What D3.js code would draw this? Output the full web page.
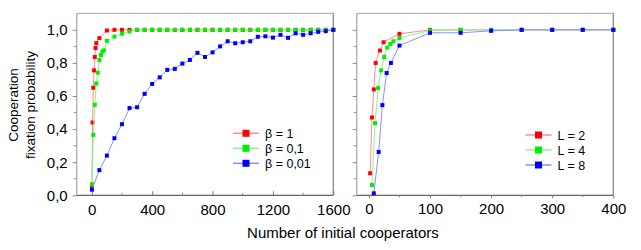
<!DOCTYPE html>
<html>
<head>
<meta charset="utf-8">
<script src="https://cdn.jsdelivr.net/npm/d3@7"></script>
<style>
  body { margin: 0; background: #fff; }
  svg text { font-family: "Liberation Sans", Arial, sans-serif; fill: #000; }
</style>
</head>
<body>
<svg id="chart" width="641" height="250"></svg>
<script>
// left panel: beta series
var b1X = [1, 5, 10, 15, 20, 25, 30, 50, 100, 150, 200, 250, 300, 350, 400, 450, 500, 550, 600, 650, 700, 750, 800, 850, 900, 950, 1000, 1050, 1100, 1150, 1200, 1250, 1300, 1350, 1400, 1450, 1500, 1550, 1600];
var b1Y = [0.055, 0.44, 0.65, 0.755, 0.836, 0.89, 0.92, 0.95, 0.996, 1, 1, 1, 1, 1, 1, 1, 1, 1, 1, 1, 1, 1, 1, 1, 1, 1, 1, 1, 1, 1, 1, 1, 1, 1, 1, 1, 1, 1, 1];
var b01X = [1, 10, 20, 30, 40, 50, 60, 70, 80, 100, 150, 200, 250, 300, 350, 400, 450, 500, 550, 600, 650, 700, 750, 800, 850, 900, 950, 1000, 1050, 1100, 1150, 1200, 1250, 1300, 1350, 1400, 1450, 1500, 1550, 1600];
var b01Y = [0.067, 0.365, 0.547, 0.676, 0.741, 0.818, 0.848, 0.869, 0.876, 0.933, 0.959, 0.977, 0.99, 1, 1, 1, 1, 1, 1, 1, 1, 1, 1, 1, 1, 1, 1, 1, 1, 1, 1, 1, 1, 1, 1, 1, 1, 1, 1, 1];
var b001X = [1, 50, 100, 150, 200, 250, 300, 350, 400, 450, 500, 550, 600, 650, 700, 750, 800, 850, 900, 950, 1000, 1050, 1100, 1150, 1200, 1250, 1300, 1350, 1400, 1450, 1500, 1550, 1600];
var b001Y = [0.034, 0.152, 0.24, 0.345, 0.43, 0.527, 0.532, 0.613, 0.673, 0.713, 0.758, 0.764, 0.796, 0.818, 0.861, 0.836, 0.864, 0.90, 0.931, 0.919, 0.925, 0.931, 0.958, 0.961, 0.953, 0.97, 0.952, 0.979, 0.97, 0.979, 0.988, 0.992, 1.0];

// right panel: L series
var l2X = [2, 5, 8, 11, 18, 24, 50, 100, 150, 200, 250, 300, 350, 400];
var l2Y = [0.133, 0.47, 0.64, 0.80, 0.875, 0.925, 0.976, 1, 1, 1, 1, 1, 1, 1];
var l4X = [5, 10, 15, 20, 25, 30, 35, 40, 50, 100, 150, 200, 250, 300, 350, 400];
var l4Y = [0.062, 0.436, 0.648, 0.755, 0.836, 0.893, 0.915, 0.931, 0.951, 0.996, 1, 1, 1, 1, 1, 1];
var l8X = [8, 16, 22, 29, 36, 50, 100, 150, 200, 250, 300, 350, 400];
var l8Y = [0.012, 0.262, 0.545, 0.739, 0.80, 0.905, 0.982, 0.982, 0.994, 1, 1, 1, 1];

var leftNames = ["\u03b2 = 1", "\u03b2 = 0,1", "\u03b2 = 0,01"];
var rightNames = ["L = 2", "L = 4", "L = 8"];
var markColors = ["#ff0000", "#00ee00", "#0000ff"];
var lineColors = ["#ff8c8c", "#8cf58c", "#8c8cff"];

var leftTicks = [0, 400, 800, 1200, 1600];
var rightTicks = [0, 100, 200, 300, 400];
var yTicks = [0, 0.2, 0.4, 0.6, 0.8, 1.0];

var svg = d3.select("#chart");
var fmtY = function(d) { return d3.format(".1f")(d).replace(".", ","); };

var plotTop = 13.3, plotBottom = 195.3;
var y = d3.scaleLinear().domain([0, 1.1]).range([plotBottom, plotTop]);

var xL = d3.scaleLinear().domain([-100, 1600]).range([76.7, 333.3]);
var xR = d3.scaleLinear().domain([-20, 400]).range([356.7, 613.3]);

function frame(x0, x1) {
  var g = svg.append("g");
  g.append("line").attr("x1", x0).attr("x2", x1).attr("y1", plotTop).attr("y2", plotTop).attr("stroke", "#b8b8b8").attr("stroke-width", 1.3);
  g.append("line").attr("x1", x0).attr("x2", x0).attr("y1", plotTop).attr("y2", plotBottom).attr("stroke", "#aaa").attr("stroke-width", 1.3);
  g.append("line").attr("x1", x1).attr("x2", x1).attr("y1", plotTop).attr("y2", plotBottom).attr("stroke", "#888").attr("stroke-width", 1.3);
  g.append("line").attr("x1", x0).attr("x2", x1).attr("y1", plotBottom).attr("y2", plotBottom).attr("stroke", "#666").attr("stroke-width", 1.3);
}

function axes(x, ticks, minorStep, xInward, showYLabels) {
  var x0 = x.range()[0];
  var ax = d3.axisBottom(x).tickValues(ticks).tickFormat(d3.format("d"))
    .tickSize(xInward ? -4 : 3).tickSizeOuter(0).tickPadding(xInward ? 9 : 5);
  var gx = svg.append("g").attr("transform", "translate(0," + plotBottom + ")").call(ax);
  gx.select(".domain").remove();
  gx.selectAll(".tick line").attr("stroke", "#777");
  gx.selectAll("text").attr("font-size", 15).attr("font-family", "Liberation Sans, Arial, sans-serif");
  var minor = [];
  for (var v = ticks[0] + minorStep; v < ticks[ticks.length - 1]; v += minorStep * 2) minor.push(v);
  svg.append("g").selectAll("line").data(minor).join("line")
    .attr("x1", function(d) { return x(d); }).attr("x2", function(d) { return x(d); })
    .attr("y1", plotBottom).attr("y2", xInward ? plotBottom - 2.5 : plotBottom + 2)
    .attr("stroke", "#888");

  var ay = d3.axisLeft(y).tickValues(yTicks).tickSize(4).tickSizeOuter(0).tickPadding(5).tickFormat(showYLabels ? fmtY : "");
  var gy = svg.append("g").attr("transform", "translate(" + x0 + ",0)").call(ay);
  gy.select(".domain").remove();
  gy.selectAll(".tick line").attr("stroke", "#888");
  gy.selectAll("text").attr("font-size", 15).attr("font-family", "Liberation Sans, Arial, sans-serif");
  svg.append("g").selectAll("line").data([0.1, 0.3, 0.5, 0.7, 0.9]).join("line")
    .attr("x1", x0 - 3).attr("x2", x0)
    .attr("y1", function(d) { return y(d); }).attr("y2", function(d) { return y(d); })
    .attr("stroke", "#999");
}

function series(x, xs, ys, i) {
  var pts = xs.map(function(d, k) { return [d, ys[k]]; });
  var line = d3.line().x(function(d) { return x(d[0]); }).y(function(d) { return y(d[1]); });
  svg.append("path").datum(pts).attr("d", line).attr("fill", "none")
    .attr("stroke", lineColors[i]).attr("stroke-width", 1);
  svg.append("g").selectAll("rect").data(pts).join("rect")
    .attr("x", function(d) { return x(d[0]) - 2; })
    .attr("y", function(d) { return y(d[1]) - 2; })
    .attr("width", 4).attr("height", 4)
    .attr("fill", markColors[i]);
}

function legend(names, lx, ly) {
  names.forEach(function(n, i) {
    var yy = ly + i * 15;
    svg.append("line").attr("x1", lx).attr("x2", lx + 26).attr("y1", yy).attr("y2", yy)
      .attr("stroke", lineColors[i]).attr("stroke-width", 1.5);
    svg.append("rect").attr("x", lx + 13 - 3.5).attr("y", yy - 3.5).attr("width", 7).attr("height", 7)
      .attr("fill", markColors[i]);
    svg.append("text").attr("x", lx + 32).attr("y", yy + 4.5).attr("font-size", 12.5).text(n);
  });
}

frame(76.7, 333.3);
frame(356.7, 613.3);
axes(xL, leftTicks, 200, true, true);
axes(xR, rightTicks, 50, false, false);

series(xL, b1X, b1Y, 0);
series(xL, b01X, b01Y, 1);
series(xL, b001X, b001Y, 2);
series(xR, l2X, l2Y, 0);
series(xR, l4X, l4Y, 1);
series(xR, l8X, l8Y, 2);

legend(leftNames, 233, 133.3);
legend(rightNames, 525.5, 135);

svg.append("text").attr("x", 343).attr("y", 238).attr("text-anchor", "middle")
  .attr("font-size", 15).text("Number of initial cooperators");

var yt = svg.append("text").attr("transform", "translate(18,105) rotate(-90)")
  .attr("text-anchor", "middle").attr("font-size", 13.5);
yt.append("tspan").attr("x", 0).attr("dy", 0).text("Cooperation");
yt.append("tspan").attr("x", 0).attr("dy", 17).text("fixation probability");
</script>
</body>
</html>
